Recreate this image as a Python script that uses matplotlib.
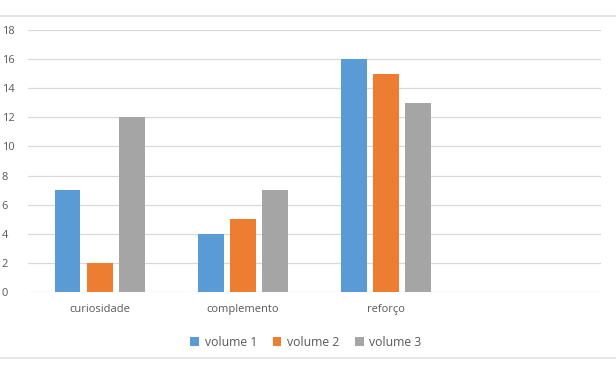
import numpy as np
from matplotlib import pyplot as plt
from matplotlib.lines import Line2D

categories = ["curiosidade", "complemento", "reforço", ""]
volume_1 = [7, 4, 16, 0]
volume_2 = [2, 5, 15, 0]
volume_3 = [12, 7, 13, 0]
series_names = ["volume 1", "volume 2", "volume 3"]
colors = ["#5B9BD5", "#ED7D31", "#A5A5A5"]

plt.rcParams['font.family'] = ['Open Sans', 'DejaVu Sans']
text_color = "#595959"

fig = plt.figure(figsize=(6.16, 3.69), dpi=100)
ax = fig.add_axes([28 / 616, 0.2087, 573 / 616, 0.71])

x = np.arange(len(categories))
width = 0.18
step = 0.225
for i, (vals, name, c) in enumerate(zip([volume_1, volume_2, volume_3], series_names, colors)):
    v = np.array(vals, dtype=float)
    v[3] = np.nan  # empty slot
    ax.bar(x + (i - 1) * step, v, width, color=c, label=name, zorder=3)

ax.set_xlim(-0.5, len(categories) - 0.5)
ax.set_ylim(0, 18)
ax.set_yticks(range(0, 19, 2))
ax.set_xticks(x[:3])
ax.set_xticklabels(categories[:3])
ax.grid(axis='y', color="#D9D9D9", linewidth=0.9, zorder=0)
for s in ax.spines.values():
    s.set_visible(False)
ax.tick_params(length=0, labelsize=8, colors=text_color, pad=9)
ax.tick_params(axis='y', pad=19)
for lbl in ax.get_yticklabels():
    lbl.set_horizontalalignment('left')

leg = ax.legend(loc='upper center', bbox_to_anchor=(0.485, -0.125), ncol=3, frameon=False,
                fontsize=8.8, handlelength=0.7, handleheight=0.7, handletextpad=0.45,
                columnspacing=1.3, labelcolor=text_color)

# frame lines of the chart area
fig.add_artist(Line2D([0, 1], [1 - 15.5 / 369] * 2, color="#E0E0E0", linewidth=1.2))
fig.add_artist(Line2D([0, 1], [1 - 358 / 369] * 2, color="#E0E0E0", linewidth=1.2))

fig.savefig("out.png", dpi=100)
